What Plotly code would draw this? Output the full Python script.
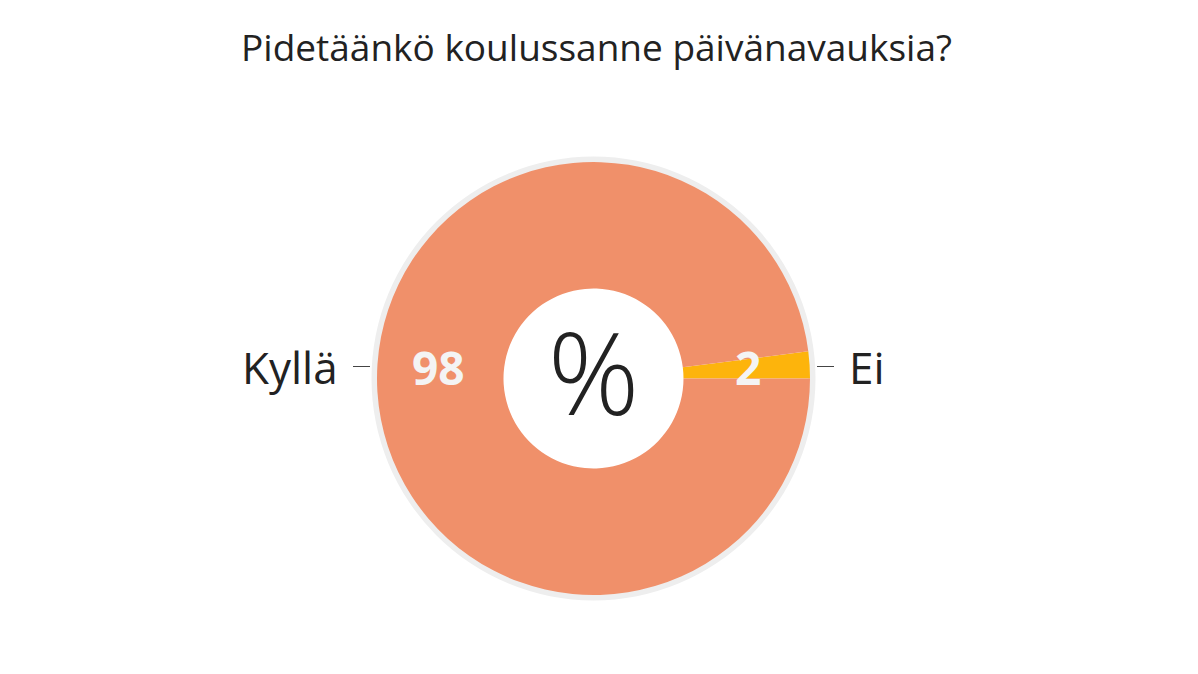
import math
import plotly.graph_objects as go

# ---- data ----
title_text = "Pidetäänkö koulussanne päivänavauksia?"
labels = ["Ei", "Kyllä"]
values = [2, 98]
colors = ["#FDB40C", "#F0906A"]
center_text = "%"

# ---- geometry (pixels) ----
W, H = 1198, 674
cx, cy = 593.5, 378.5
R = 216.5
R_ring = 222
R_HOLE = 90
LABEL_DY = -12          # labels sit slightly above their slice axis line


def dom(r):
    return dict(x=[(cx - r) / W, (cx + r) / W], y=[(H - cy - r) / H, (H - cy + r) / H])


total = sum(values)
# first slice ends at 3 o'clock, growing upward (clockwise from 12)
rotation = 90 - values[0] / total * 360

fig = go.Figure()

# light grey rim behind the donut
fig.add_trace(go.Pie(
    values=[1], labels=["rim"], domain=dom(R_ring), sort=False, hole=(R - 2) / R_ring,
    marker=dict(colors=["#EEEEEE"], line=dict(width=0)),
    textinfo="none", hoverinfo="skip", showlegend=False,
))

# main donut
fig.add_trace(go.Pie(
    values=values, labels=labels, domain=dom(R), sort=False, hole=R_HOLE / R,
    direction="clockwise", rotation=rotation,
    marker=dict(colors=colors, line=dict(width=0)),
    textinfo="none",
    title=dict(text=center_text, position="middle center",
               font=dict(family="Open Sans", size=116, color="#222222", weight=300)),
    hoverinfo="label+value", showlegend=False,
))

# labels, values and leader lines derived from slice mid-angles
shapes, annotations = [], []
cum = 0
r_val = (R_HOLE + R) / 2
for lab, v in zip(labels, values):
    a = rotation + (cum + v / 2) / total * 360   # clockwise from 12 o'clock
    cum += v
    th = math.radians(90 - a)
    s = 1 if math.cos(th) >= 0 else -1
    ylab = cy + LABEL_DY
    # value inside the ring
    xv = cx + (r_val + 2) * math.cos(th)
    annotations.append(dict(
        x=xv / W, y=(H - ylab) / H, xref="paper", yref="paper",
        text=str(v), showarrow=False, xanchor="center", yanchor="middle",
        font=dict(family="Open Sans", size=46, color="#F4F4F4", weight="bold")))
    # category label outside
    xl = cx + s * (R + 37)
    annotations.append(dict(
        x=xl / W, y=(H - ylab) / H, xref="paper", yref="paper",
        text=lab, showarrow=False, xanchor="left" if s > 0 else "right", yanchor="middle",
        font=dict(family="Open Sans", size=44, color="#222222")))
    # leader line
    shapes.append(dict(type="line", xref="paper", yref="paper",
                       x0=(cx + s * (R + 7)) / W, x1=(cx + s * (R + 24)) / W,
                       y0=(H - ylab) / H, y1=(H - ylab) / H,
                       line=dict(color="#444444", width=1)))

fig.update_layout(
    width=W, height=H,
    margin=dict(l=0, r=0, t=0, b=0),
    paper_bgcolor="white", plot_bgcolor="white",
    title=dict(text=title_text, x=596.5 / W, xanchor="center",
               y=1 - 48 / H, yanchor="middle",
               font=dict(family="Open Sans", size=37, color="#222222")),
    shapes=shapes,
    annotations=annotations,
)

fig.write_html("out.html", config={"displayModeBar": False},
               post_script="document.body.style.margin='0';")
